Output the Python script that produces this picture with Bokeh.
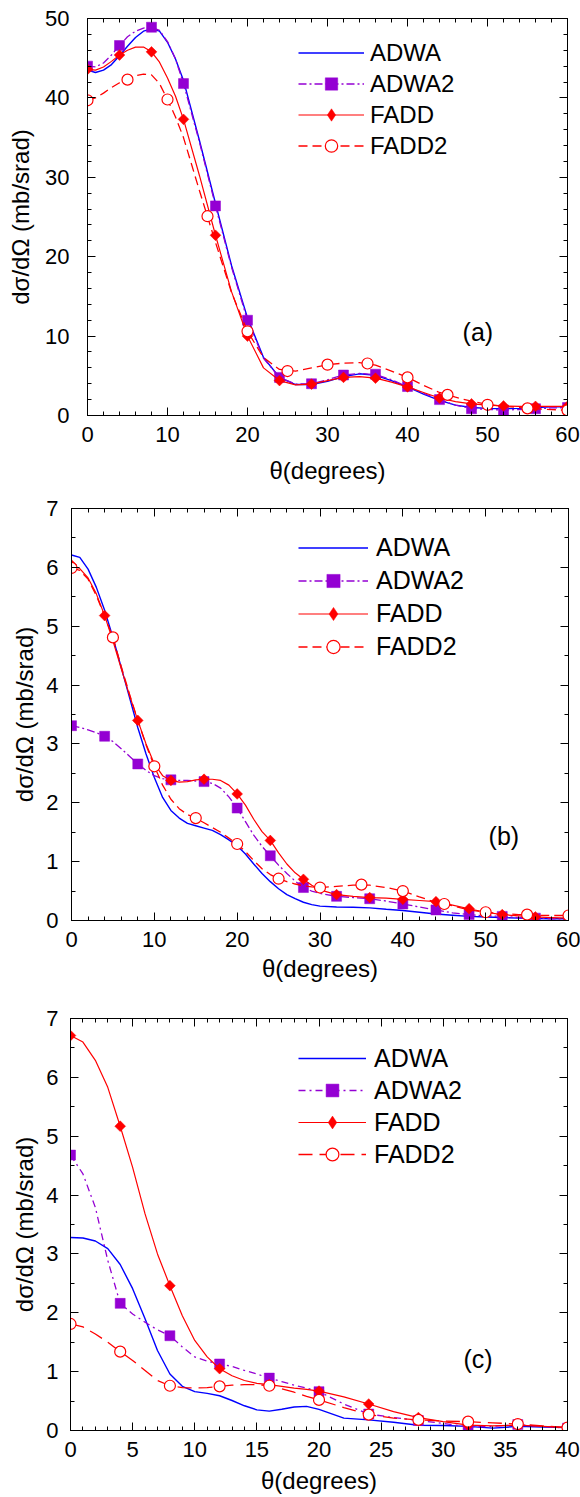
import numpy as np
from bokeh.plotting import figure
from bokeh.models import (Range1d, LinearAxis, SingleIntervalTicker, Legend,
                          LegendItem, Label)
from bokeh.embed import file_html
from bokeh.resources import INLINE

FONT = "Liberation Sans"
BLUE = "#0000FF"
PURPLE = "#9400D3"
RED = "#FF0000"

# ---------------- panel (a) data ----------------
a_theta = [0, 1, 2, 3, 4, 5, 6, 7, 8, 9, 10, 11, 12, 14, 16, 18, 20, 22, 24, 26,
           28, 30, 32, 34, 36, 38, 40, 42, 44, 46, 48, 50, 52, 54, 56, 58, 60]
a_adwa = [43.5, 43.2, 43.5, 44.2, 45.3, 46.5, 47.6, 48.4, 48.7, 48.4, 47.0, 44.9, 42.2,
          34.6, 26.7, 18.9, 12.3, 7.3, 4.8, 3.9, 3.9, 4.3, 4.9, 5.25, 5.05, 4.4, 3.6,
          2.7, 1.9, 1.3, 1.0, 0.9, 0.85, 0.9, 1.0, 1.1, 1.1]
a_adwa2 = [44.0, 43.9, 44.4, 45.4, 46.6, 47.7, 48.4, 48.8, 48.9, 48.5, 47.1, 44.9, 41.8,
           34.4, 26.4, 18.7, 12.0, 7.2, 4.8, 3.95, 4.0, 4.5, 5.1, 5.3, 5.15, 4.5, 3.65,
           2.8, 2.0, 1.3, 0.9, 0.75, 0.7, 0.75, 0.85, 0.95, 1.0]
a_fadd = [43.6, 43.5, 43.9, 44.6, 45.4, 46.0, 46.4, 46.4, 45.8, 44.5, 42.5, 40.2, 37.3,
          30.2, 22.7, 15.6, 10.0, 6.0, 4.4, 3.85, 3.95, 4.4, 4.8, 4.9, 4.7, 4.2, 3.6,
          2.9, 2.2, 1.75, 1.47, 1.3, 1.2, 1.15, 1.15, 1.15, 1.15]
a_fadd2 = [39.7, 40.0, 40.6, 41.3, 41.9, 42.3, 42.8, 43.0, 42.9, 41.8, 39.8, 37.6, 35.0,
           28.3, 21.8, 15.5, 10.6, 7.3, 5.8, 5.6, 6.0, 6.4, 6.6, 6.65, 6.35, 5.6, 4.8,
           3.8, 2.9, 2.3, 1.8, 1.4, 1.15, 1.0, 0.85, 0.75, 0.65]
a_mk4_x = [0, 4, 8, 12, 16, 20, 24, 28, 32, 36, 40, 44, 48, 52, 56, 60]
a_mk_adwa2 = [44.0, 46.6, 48.9, 41.8, 26.4, 12.0, 4.8, 4.0, 5.1, 5.2, 3.65, 2.0, 0.85, 0.7, 0.85, 1.0]
a_mk_fadd = [43.6, 45.4, 45.8, 37.3, 22.7, 10.0, 4.4, 3.95, 4.8, 4.7, 3.6, 2.2, 1.47, 1.2, 1.15, 1.15]
a_mk5_x = [0, 5, 10, 15, 20, 25, 30, 35, 40, 45, 50, 55, 60]
a_mk_fadd2 = [39.7, 42.3, 39.8, 25.1, 10.6, 5.6, 6.4, 6.55, 4.8, 2.6, 1.35, 0.9, 0.65]

# ---------------- panel (b) data ----------------
b_theta = list(range(0, 31)) + [32, 34, 36, 38, 40, 42, 44, 46, 48, 50, 52, 54, 56, 58, 60]
b_adwa = [6.21, 6.17, 5.97, 5.66, 5.27, 4.81, 4.30, 3.79, 3.28, 2.83, 2.43, 2.09, 1.87,
          1.74, 1.65, 1.61, 1.57, 1.53, 1.46, 1.37, 1.27, 1.13, 0.96, 0.80, 0.66, 0.54,
          0.44, 0.37, 0.31, 0.27, 0.245, 0.23, 0.225, 0.215, 0.19, 0.17, 0.14, 0.11,
          0.09, 0.07, 0.06, 0.05, 0.04, 0.035, 0.03, 0.03]
b_adwa2 = [3.31, 3.28, 3.24, 3.19, 3.13, 3.04, 2.92, 2.79, 2.66, 2.55, 2.46, 2.41, 2.39,
           2.38, 2.38, 2.37, 2.36, 2.33, 2.25, 2.10, 1.91, 1.68, 1.45, 1.26, 1.10, 0.94,
           0.80, 0.67, 0.56, 0.50, 0.46, 0.41, 0.39, 0.37, 0.33, 0.28, 0.23, 0.18, 0.13,
           0.10, 0.08, 0.07, 0.05, 0.04, 0.03, 0.03]
b_fadd = [6.04, 5.98, 5.82, 5.55, 5.18, 4.75, 4.28, 3.83, 3.40, 3.00, 2.66, 2.46, 2.38,
          2.35, 2.36, 2.39, 2.40, 2.40, 2.38, 2.30, 2.15, 1.96, 1.72, 1.51, 1.36, 1.15,
          0.96, 0.81, 0.70, 0.60, 0.52, 0.44, 0.41, 0.39, 0.38, 0.36, 0.34, 0.32, 0.26,
          0.20, 0.14, 0.10, 0.08, 0.06, 0.05, 0.04]
b_fadd2 = [5.99, 5.95, 5.80, 5.52, 5.17, 4.81, 4.32, 3.85, 3.40, 2.98, 2.62, 2.30, 2.06,
           1.90, 1.80, 1.74, 1.66, 1.58, 1.50, 1.40, 1.30, 1.17, 1.02, 0.88, 0.78, 0.71,
           0.66, 0.62, 0.59, 0.57, 0.56, 0.58, 0.60, 0.60, 0.56, 0.50, 0.40, 0.31, 0.25,
           0.18, 0.14, 0.12, 0.10, 0.09, 0.085, 0.085]
b_mk4_x = [0, 4, 8, 12, 16, 20, 24, 28, 32, 36, 40, 44, 48, 52, 56, 60]
b_mk_adwa2 = [3.31, 3.13, 2.66, 2.39, 2.36, 1.91, 1.10, 0.56, 0.41, 0.37, 0.28, 0.18, 0.10, 0.07, 0.04, 0.03]
b_mk_fadd = [6.04, 5.18, 3.40, 2.38, 2.40, 2.15, 1.36, 0.70, 0.44, 0.39, 0.36, 0.32, 0.20, 0.10, 0.06, 0.04]
b_mk5_x = [0, 5, 10, 15, 20, 25, 30, 35, 40, 45, 50, 55, 60]
b_mk_fadd2 = [5.99, 4.81, 2.62, 1.74, 1.30, 0.71, 0.56, 0.61, 0.50, 0.28, 0.14, 0.10, 0.085]

# ---------------- panel (c) data ----------------
c_theta = list(range(0, 21)) + [22, 24, 26, 28, 30, 32, 34, 36, 38, 40]
c_adwa = [3.28, 3.27, 3.22, 3.09, 2.82, 2.41, 1.90, 1.36, 0.96, 0.75, 0.66, 0.63, 0.59,
          0.51, 0.42, 0.35, 0.33, 0.36, 0.40, 0.41, 0.36, 0.21, 0.18, 0.14, 0.09, 0.085,
          0.07, 0.04, 0.07, 0.06, 0.05]
c_adwa2 = [4.68, 4.36, 3.79, 2.89, 2.16, 1.98, 1.84, 1.71, 1.61, 1.42, 1.25, 1.18, 1.13,
           1.09, 1.02, 0.96, 0.89, 0.83, 0.77, 0.72, 0.66, 0.45, 0.28, 0.22, 0.17, 0.12,
           0.06, 0.07, 0.10, 0.07, 0.04]
c_fadd = [6.71, 6.60, 6.29, 5.83, 5.17, 4.47, 3.68, 3.00, 2.46, 1.95, 1.53, 1.25, 1.05,
          0.93, 0.85, 0.80, 0.78, 0.75, 0.72, 0.70, 0.67, 0.57, 0.45, 0.32, 0.22, 0.15,
          0.09, 0.08, 0.09, 0.07, 0.05]
c_fadd2 = [1.81, 1.76, 1.64, 1.50, 1.34, 1.19, 1.02, 0.85, 0.76, 0.73, 0.72, 0.73, 0.75,
           0.77, 0.78, 0.78, 0.76, 0.71, 0.65, 0.58, 0.52, 0.39, 0.27, 0.21, 0.18, 0.16,
           0.15, 0.13, 0.11, 0.08, 0.05]
c_mk_x = [0, 4, 8, 12, 16, 20, 24, 28, 32, 36, 40]
c_mk_adwa2 = [4.68, 2.16, 1.61, 1.13, 0.89, 0.66, 0.28, 0.17, 0.06, 0.10, 0.04]
c_mk_fadd = [6.71, 5.17, 2.46, 1.05, 0.78, 0.67, 0.45, 0.22, 0.09, 0.09, 0.05]
c_mk_fadd2 = [1.81, 1.34, 0.76, 0.75, 0.76, 0.52, 0.27, 0.18, 0.15, 0.11, 0.05]

series_names = ["ADWA", "ADWA2", "FADD", "FADD2"]
x_title = "θ(degrees)"
y_title = "dσ/dΩ (mb/srad)"


def style_axis(ax, ticker, show_labels, label_standoff=8, font_size="22px"):
    ax.ticker = ticker
    ax.axis_line_color = "black"
    ax.axis_line_width = 1
    ax.major_tick_in = 8
    ax.major_tick_out = 0
    ax.minor_tick_in = 4
    ax.minor_tick_out = 0
    ax.major_tick_line_color = "black"
    ax.minor_tick_line_color = "black"
    ax.major_label_text_font = FONT
    if show_labels:
        ax.major_label_text_color = "black"
        ax.major_label_text_font_size = font_size
        ax.major_label_standoff = label_standoff
    else:
        ax.major_label_text_color = None
        ax.major_label_text_alpha = 0
        ax.major_label_text_font_size = "1px"
        ax.major_label_standoff = 0


def make_panel(theta, adwa, adwa2, fadd, fadd2, mkx_sq, mk_sq, mkx_di, mk_di, mkx_ci, mk_ci,
               xmax, xstep, xminor, ymax, ystep, yminor, geom, leg, tag, fadd2_dash, adwa2_dash):
    p = figure(frame_width=geom["fw"], frame_height=geom["fh"],
               x_range=Range1d(0, xmax), y_range=Range1d(0, ymax),
               output_backend="svg", toolbar_location=None,
               min_border_left=geom["l"], min_border_right=geom["r"],
               min_border_top=geom["t"], min_border_bottom=geom["b"])
    p.xgrid.visible = False
    p.ygrid.visible = False
    p.outline_line_color = "black"
    p.outline_line_width = 1
    p.background_fill_color = "white"
    p.border_fill_color = "white"

    style_axis(p.xaxis[0], SingleIntervalTicker(interval=xstep, num_minor_ticks=xminor), True,
               geom["xls"])
    style_axis(p.yaxis[0], SingleIntervalTicker(interval=ystep, num_minor_ticks=yminor), True,
               geom["yls"])
    for ax in (p.xaxis[0], p.yaxis[0]):
        ax.axis_label_text_font = FONT
        ax.axis_label_text_font_size = "24px"
        ax.axis_label_text_font_style = "normal"
        ax.axis_label_text_color = "black"
    p.xaxis[0].axis_label = x_title
    p.yaxis[0].axis_label = y_title
    p.xaxis[0].axis_label_standoff = geom["xas"]
    p.yaxis[0].axis_label_standoff = geom["yas"]

    top = LinearAxis()
    style_axis(top, SingleIntervalTicker(interval=xstep, num_minor_ticks=xminor), False)
    p.add_layout(top, "above")
    right = LinearAxis()
    style_axis(right, SingleIntervalTicker(interval=ystep, num_minor_ticks=yminor), False)
    p.add_layout(right, "right")

    r_adwa = p.line(theta, adwa, line_color=BLUE, line_width=1.4)
    r_adwa2 = p.line(theta, adwa2, line_color=PURPLE, line_width=1.3, line_dash=adwa2_dash)
    m_adwa2 = p.scatter(mkx_sq, mk_sq, marker="square", size=10, fill_color=PURPLE,
                        line_color=PURPLE, line_width=0.5)
    r_fadd = p.line(theta, fadd, line_color=RED, line_width=1.2)
    m_fadd = p.scatter(mkx_di, mk_di, marker="square", angle=np.pi / 4, size=7.6,
                       fill_color=RED, line_color=RED, line_width=0.5)
    # legend-only key glyph (diamond), no visible point in the plot
    k_fadd = p.scatter(x=np.array([np.nan]), y=np.array([np.nan]), marker="diamond",
                       fill_color=RED, line_color=RED, line_width=0.5)
    r_fadd2 = p.line(theta, fadd2, line_color=RED, line_width=1.3, line_dash=fadd2_dash)
    m_fadd2 = p.scatter(mkx_ci, mk_ci, marker="circle", size=11, fill_color="white",
                        line_color=RED, line_width=1.2)

    items = [LegendItem(label=series_names[0], renderers=[r_adwa]),
             LegendItem(label=series_names[1], renderers=[r_adwa2, m_adwa2]),
             LegendItem(label=series_names[2], renderers=[r_fadd, k_fadd]),
             LegendItem(label=series_names[3], renderers=[r_fadd2, m_fadd2])]
    legend = Legend(items=items, location=(leg["x"], leg["y"]),
                    glyph_width=leg["gw"], glyph_height=leg["h"], label_height=leg["h"],
                    label_standoff=leg["ls"], spacing=0, padding=0, margin=0,
                    border_line_alpha=0, background_fill_alpha=0,
                    label_text_font=FONT, label_text_font_size=leg["fs"],
                    label_text_color="black", label_text_baseline="middle")
    p.add_layout(legend)

    p.add_layout(Label(x=tag["x"], y=tag["y"], text=tag["text"], text_align="center",
                       text_baseline="middle", text_font=FONT, text_font_size="25px",
                       text_color="black"))
    return p


pa = make_panel(a_theta, a_adwa, a_adwa2, a_fadd, a_fadd2,
                a_mk4_x, a_mk_adwa2, a_mk4_x, a_mk_fadd, a_mk5_x, a_mk_fadd2,
                60, 10, 5, 50, 10, 5,
                dict(fw=480, fh=397, l=87, r=13, t=18, b=77, xls=11, yls=18, xas=12, yas=8),
                dict(x=211, y=254, gw=66, h=31, ls=6, fs="24px"),
                dict(x=48.8, y=10.5, text="(a)"), "9 5", "8 3 2 3")
pb = make_panel(b_theta, b_adwa, b_adwa2, b_fadd, b_fadd2,
                b_mk4_x, b_mk_adwa2, b_mk4_x, b_mk_fadd, b_mk5_x, b_mk_fadd2,
                60, 10, 5, 7, 1, 2,
                dict(fw=497, fh=412, l=71, r=12, t=16, b=82, xls=11, yls=13, xas=5, yas=5),
                dict(x=227, y=257, gw=70, h=33, ls=8, fs="25px"),
                dict(x=52.2, y=1.43, text="(b)"), "9 5", "8 3 2 3")
pc = make_panel(c_theta, c_adwa, c_adwa2, c_fadd, c_fadd2,
                c_mk_x, c_mk_adwa2, c_mk_x, c_mk_fadd, c_mk_x, c_mk_fadd2,
                40, 5, 5, 7, 1, 2,
                dict(fw=497, fh=412, l=70, r=13, t=16, b=67, xls=11, yls=12, xas=7, yas=5),
                dict(x=228, y=260, gw=68, h=32, ls=8, fs="25px"),
                dict(x=32.8, y=1.22, text="(c)"), "14 7", "7 4 2 4")

open("out.html", "w").write(file_html([pa, pb, pc], INLINE))
